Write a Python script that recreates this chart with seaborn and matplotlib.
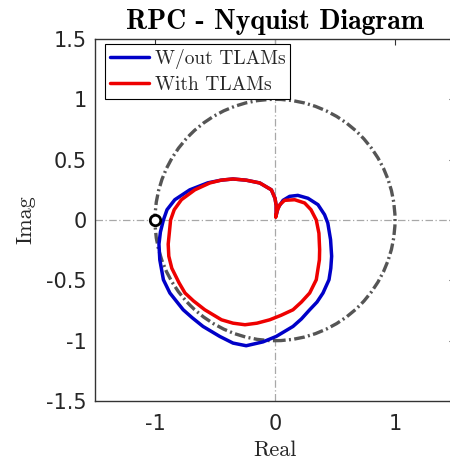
import numpy as np
import pandas as pd
import matplotlib
matplotlib.use("Agg")
import matplotlib.pyplot as plt
import seaborn as sns
from matplotlib.patches import Circle
from matplotlib.lines import Line2D

# ---- data ----
series_names = ["W/out TLAMs", "With TLAMs"]

blue_re = [0.01, 0.025, 0.067, 0.122, 0.19, 0.275, 0.358, 0.413, 0.44, 0.463, 0.472, 0.465,
           0.45, 0.40, 0.35, 0.289, 0.22, 0.15, 0.01, -0.10, -0.24, -0.35, -0.46, -0.60,
           -0.69, -0.765, -0.876, -0.93, -0.96, -0.967, -0.955, -0.93, -0.90, -0.835,
           -0.71, -0.56, -0.45, -0.35, -0.24, -0.127, -0.03, 0.0, 0.01, 0.01, 0.01]
blue_im = [0.04, 0.10, 0.163, 0.196, 0.204, 0.18, 0.127, 0.044, -0.025, -0.163, -0.30, -0.40,
           -0.495, -0.605, -0.68, -0.744, -0.82, -0.882, -0.965, -1.01, -1.042, -1.02, -0.965,
           -0.882, -0.81, -0.744, -0.605, -0.495, -0.33, -0.20, -0.10, 0.0, 0.085, 0.168,
           0.25, 0.308, 0.33, 0.34, 0.33, 0.307, 0.25, 0.18, 0.12, 0.058, 0.04]

red_re = [0.006, 0.02, 0.04, 0.08, 0.164, 0.247, 0.30, 0.344, 0.366, 0.372, 0.37, 0.344,
          0.289, 0.22, 0.15, 0.05, -0.044, -0.15, -0.25, -0.35, -0.446, -0.585, -0.68,
          -0.75, -0.80, -0.86, -0.885, -0.89, -0.88, -0.87, -0.84, -0.78, -0.668, -0.543,
          -0.45, -0.35, -0.24, -0.127, -0.03, 0.0, 0.01, 0.01, 0.006]
red_im = [0.025, 0.08, 0.127, 0.163, 0.168, 0.141, 0.085, 0.0, -0.11, -0.246, -0.33, -0.495,
          -0.605, -0.68, -0.744, -0.79, -0.827, -0.855, -0.868, -0.855, -0.827, -0.744, -0.67,
          -0.605, -0.52, -0.40, -0.30, -0.20, -0.10, 0.0, 0.085, 0.168, 0.25, 0.307,
          0.33, 0.34, 0.33, 0.307, 0.25, 0.18, 0.12, 0.058, 0.025]

x_ticks = [-1, 0, 1]
y_ticks = [-1.5, -1, -0.5, 0, 0.5, 1, 1.5]
y_ticklabels = ["-1.5", "-1", "-0.5", "0", "0.5", "1", "1.5"]

df = pd.concat([
    pd.DataFrame({"Real": blue_re, "Imag": blue_im, "series": series_names[0]}),
    pd.DataFrame({"Real": red_re, "Imag": red_im, "series": series_names[1]}),
])

sns.set_theme(style="white")
plt.rcParams["font.family"] = ["DejaVu Sans"]
plt.rcParams["axes.unicode_minus"] = False

fig = plt.figure(figsize=(4.5, 4.61), dpi=100)
ax = fig.add_axes([95 / 450, 60 / 461, 360 / 450, 362 / 461])

# reference axes lines
ax.axhline(0, color="#a8a8a8", lw=0.9, ls=(0, (6, 2, 1, 2)), zorder=1)
ax.axvline(0, color="#a8a8a8", lw=0.9, ls=(0, (6, 2, 1, 2)), zorder=1)

# unit circle
ax.add_patch(Circle((0, 0), 1, fill=False, ec="#555555", lw=2.4,
                    ls=(0, (3.2, 1.0, 0.6, 1.0)), zorder=2))

palette = {series_names[0]: "#0000c8", series_names[1]: "#ee0000"}
sns.lineplot(data=df, x="Real", y="Imag", hue="series", palette=palette,
             sort=False, estimator=None, units="series", lw=2.5, ax=ax,
             legend=False, zorder=3)

# critical point
ax.plot([-1], [0], marker="o", ms=7.5, mfc="white", mec="black", mew=2, zorder=5)

ax.set_xlim(-1.5, 1.5)
ax.set_ylim(-1.5, 1.5)
ax.set_xticks(x_ticks)
ax.set_xticklabels([str(t) for t in x_ticks])
ax.set_yticks(y_ticks)
ax.set_yticklabels(y_ticklabels)
ax.tick_params(direction="in", length=4, width=0.8, colors="#333333",
               labelsize=15, labelcolor="#262626", top=True, right=True)
ax.tick_params(axis="x", pad=9)
ax.tick_params(axis="y", pad=6)
for s in ax.spines.values():
    s.set_color("#333333")
    s.set_linewidth(1.0)

ax.set_xlabel("Real", family="cmr10", fontsize=16, color="#262626", labelpad=5)
ax.set_ylabel("Imag", family="cmr10", fontsize=16, color="#262626", labelpad=8)
ax.set_title("RPC - Nyquist Diagram", family="cmb10", fontsize=20, color="black", pad=7)

handles = [Line2D([], [], color=palette[n], lw=2.5) for n in series_names]
leg = ax.legend(handles, series_names, loc="upper left", bbox_to_anchor=(0.028, 0.985),
                prop={"family": "cmr10", "size": 14}, frameon=True, fancybox=False,
                edgecolor="black", framealpha=1, handlelength=2.0, handletextpad=0.3,
                borderpad=0.25, labelspacing=0.35, borderaxespad=0)
leg.get_frame().set_linewidth(0.8)

fig.savefig("out.png", dpi=100)
